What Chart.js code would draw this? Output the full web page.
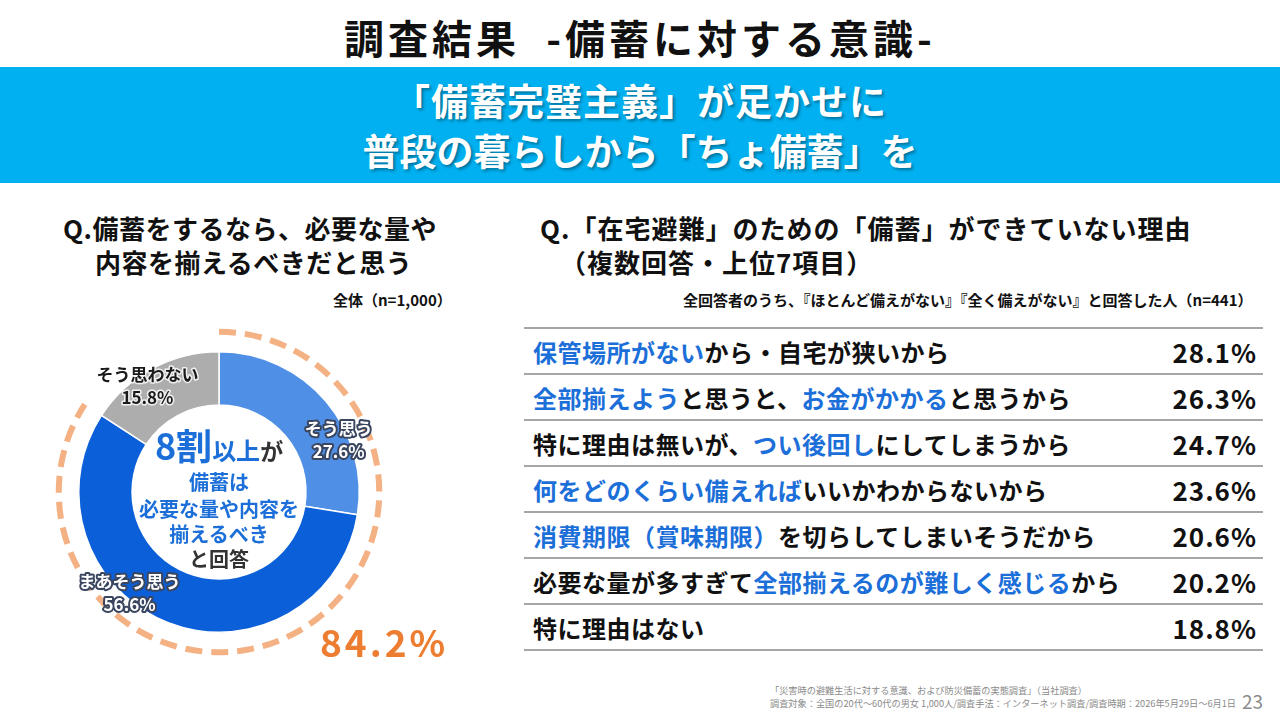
<!DOCTYPE html>
<html lang="ja">
<head>
<meta charset="utf-8">
<script src="https://cdn.jsdelivr.net/npm/chart.js@4.4.1/dist/chart.umd.min.js"></script>
<style>
  html, body { margin: 0; padding: 0; }
  body {
    width: 1280px; height: 720px; position: relative; overflow: hidden;
    background: #fff; font-family: "Noto Sans CJK JP", "Noto Sans", sans-serif; color: #111;
  }
  .abs { position: absolute; white-space: nowrap; }
  #title { left: 0; width: 1280px; top: 10px; text-align: center; font-size: 40px; font-weight: 700; line-height: 54px; letter-spacing: 4px; }
  #banner {
    left: 0; top: 67px; width: 1280px; height: 116px; background: #00B0F0;
    color: #fff; font-weight: 700; font-size: 37px; text-align: center; line-height: 50px;
    text-shadow: 2px 2px 3px rgba(0,0,0,0.35);
  }
  #banner div { position: absolute; left: 0; width: 1280px; }
  .q { font-size: 26px; font-weight: 700; line-height: 34px; }
  .note { font-size: 15px; font-weight: 700; line-height: 20px; }
  #chartBox { left: 0; top: 310px; width: 500px; height: 370px; }
  .center { left: 119px; width: 200px; text-align: center; font-weight: 700; color: #1C6FD8; }
  #total { font-size: 37px; font-weight: 700; color: #ED7D31; letter-spacing: 3px; line-height: 44px; }
  #reasons { left: 524px; top: 327px; width: 739px; border-collapse: collapse; }
  #reasons td { height: 44px; border-bottom: 2px solid #A6A6A6; font-weight: 700; padding: 0; }
  #reasons tr:first-child td { border-top: 2px solid #A6A6A6; }
  #reasons td.lab { font-size: 24px; padding-left: 9px; letter-spacing: 0.5px; }
  #reasons td.val { font-size: 26px; text-align: right; padding-right: 6px; letter-spacing: 1px; }
  .hl { color: #1C6FD8; }
  #foot { left: 770px; top: 684px; font-size: 9.2px; line-height: 13px; color: #8a8a8a; }
  #page { left: 1242px; top: 687px; font-size: 19px; color: #8a8a8a; }
</style>
</head>
<body>
<div id="title" class="abs">調査結果&nbsp;&nbsp;-備蓄に対する意識-</div>
<div id="banner" class="abs">
  <div style="top:8px; letter-spacing:1px;">「備蓄完璧主義」が足かせに</div>
  <div style="top:58px">普段の暮らしから「ちょ備蓄」を</div>
</div>

<div class="abs q" style="left:63px; top:211px; letter-spacing:0.5px;">Q.備蓄をするなら、必要な量や</div>
<div class="abs q" style="left:95px; top:245px; letter-spacing:0.5px;">内容を揃えるべきだと思う</div>
<div class="abs note" style="left:333px; top:290px;">全体（n=1,000）</div>

<div class="abs q" style="left:540px; top:211px; letter-spacing:1px;">Q.「在宅避難」のための「備蓄」ができていない理由</div>
<div class="abs q" style="left:560px; top:245px; letter-spacing:1px;">（複数回答・上位7項目）</div>
<div class="abs note" style="left:683px; top:290px;">全回答者のうち、『ほとんど備えがない』『全く備えがない』と回答した人（n=441）</div>

<div id="chartBox" class="abs"><canvas id="donut"></canvas></div>

<div class="abs center" style="top:419px; line-height:50px;"><span style="font-size:36px">8割</span><span style="font-size:24px">以上</span><span style="font-size:23px; color:#333">が</span></div>
<div class="abs center" style="top:468px; font-size:20px; line-height:27px;">備蓄は</div>
<div class="abs center" style="top:495px; font-size:20px; line-height:27px;">必要な量や内容を</div>
<div class="abs center" style="top:520px; font-size:20px; line-height:27px;">揃えるべき</div>
<div class="abs center" style="top:545px; font-size:20px; line-height:27px; color:#333;">と回答</div>

<div id="total" class="abs" style="left:320px; top:619px;"></div>

<table id="reasons" class="abs"></table>

<div id="foot" class="abs">「災害時の避難生活に対する意識、および防災備蓄の実態調査」（当社調査）<br>調査対象：全国の20代～60代の男女 1,000人/調査手法：インターネット調査/調査時期：2026年5月29日～6月1日</div>
<div id="page" class="abs">23</div>

<script>
// 左：備蓄をするなら必要な量や内容を揃えるべきだと思う（n=1,000）
const answerLabels = ['そう思う', 'まあそう思う', 'そう思わない'];
const answerValues = [27.6, 56.6, 15.8];
const answerColors = ['#4F8FE6', '#0B5FD8', '#ADADAD'];

// 右：備蓄ができていない理由（[ ] は青字の部分）
const reasonLabels = [
    '[保管場所がない]から・自宅が狭いから',
    '[全部揃えよう]と思うと、[お金がかかる]と思うから',
    '特に理由は無いが、[つい後回し]にしてしまうから',
    '[何をどのくらい備えれば]いいかわからないから',
    '[消費期限（賞味期限）]を切らしてしまいそうだから',
    '必要な量が多すぎて[全部揃えるのが難しく感じる]から',
    '特に理由はない'
];
const reasonValues = [28.1, 26.3, 24.7, 23.6, 20.6, 20.2, 18.8];

// ラベルの置き場所（扇形の中での割合、半径に対する割合）
const labelAlong = [0.67, 0.60, 0.40];
const labelRadial = [0.93, 0.96, 0.91];

const table = document.getElementById('reasons');
reasonLabels.forEach((label, i) => {
    const tr = document.createElement('tr');
    const html = label.replace(/\[([^\]]+)\]/g, '<span class="hl">$1</span>');
    tr.innerHTML = `<td class="lab">${html}</td><td class="val">${reasonValues[i].toFixed(1)}%</td>`;
    table.appendChild(tr);
});

document.getElementById('total').textContent = (answerValues[0] + answerValues[1]).toFixed(1) + '%';

const ringPlugin = {
    id: 'ring',
    afterDatasetsDraw(chart) {
        const ctx = chart.ctx;
        const arcs = chart.getDatasetMeta(0).data;
        const first = arcs[0].getProps(['x', 'y', 'startAngle', 'endAngle', 'outerRadius'], true);
        const second = arcs[1].getProps(['endAngle'], true);

        // 「そう思う」+「まあそう思う」を囲む点線
        ctx.save();
        ctx.beginPath();
        ctx.setLineDash([17, 9]);
        ctx.lineWidth = 6;
        ctx.strokeStyle = '#F4B183';
        ctx.arc(first.x, first.y, first.outerRadius + 20, first.startAngle, second.endAngle);
        ctx.stroke();
        ctx.restore();

        // 各扇形のラベル
        arcs.forEach((arc, i) => {
            const p = arc.getProps(['x', 'y', 'startAngle', 'endAngle', 'outerRadius'], true);
            const a = p.startAngle + (p.endAngle - p.startAngle) * labelAlong[i];
            const r = p.outerRadius * labelRadial[i];
            const cx = p.x + Math.cos(a) * r;
            const cy = p.y + Math.sin(a) * r;
            const lines = [answerLabels[i], answerValues[i].toFixed(1) + '%'];
            ctx.save();
            ctx.font = '700 17px "Noto Sans CJK JP"';
            ctx.textAlign = 'center';
            ctx.textBaseline = 'middle';
            ctx.lineJoin = 'round';
            lines.forEach((t, k) => {
                const ty = cy + (k - 0.5) * 23;
                if (i < 2) {
                    ctx.lineWidth = 4;
                    ctx.strokeStyle = '#3a4660';
                    ctx.strokeText(t, cx, ty);
                    ctx.fillStyle = '#fff';
                } else {
                    ctx.lineWidth = 3;
                    ctx.strokeStyle = 'rgba(255,255,255,0.8)';
                    ctx.strokeText(t, cx, ty);
                    ctx.fillStyle = '#1a1a1a';
                }
                ctx.fillText(t, cx, ty);
            });
            ctx.restore();
        });
    }
};

new Chart(document.getElementById('donut'), {
    type: 'doughnut',
    data: {
        labels: answerLabels,
        datasets: [{
            data: answerValues,
            backgroundColor: answerColors,
            borderColor: '#fff',
            borderWidth: 1.5,
            hoverOffset: 0
        }]
    },
    options: {
        responsive: true,
        maintainAspectRatio: false,
        animation: false,
        cutout: '62%',
        layout: { padding: { left: 78, right: 140, top: 41, bottom: 47 } },
        plugins: {
            legend: { display: false },
            tooltip: { enabled: false }
        }
    },
    plugins: [ringPlugin]
});
</script>
</body>
</html>
